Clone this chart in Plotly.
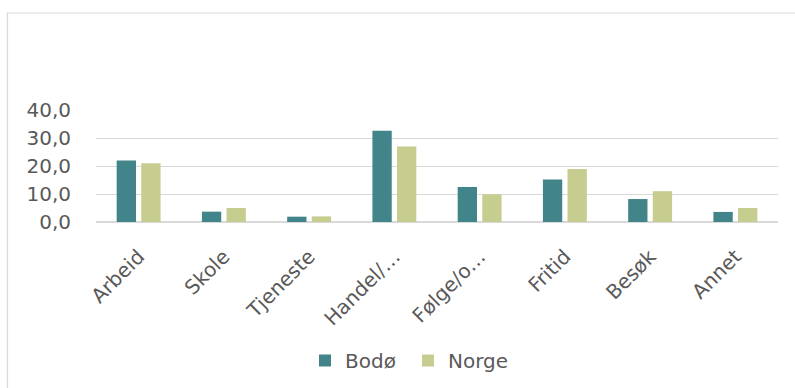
import plotly.graph_objects as go

# Reiseformål: andel av reiser (%)
categories = ["Arbeid", "Skole", "Tjeneste", "Handel/…", "Følge/o…", "Fritid", "Besøk", "Annet"]
bodo = [22.0, 3.7, 1.9, 32.6, 12.5, 15.2, 8.2, 3.6]
norge = [21.0, 5.0, 2.0, 27.0, 9.9, 18.9, 11.0, 5.0]
y_ticks = [0, 10, 20, 30, 40]

TEXT = "#595959"
GRID = "#D9D9D9"
FONT = "DejaVu Sans"

W, H = 795, 388
L, R, T, B = 96, 17, 110, 166
pw, ph = W - L - R, H - T - B

fig = go.Figure()
fig.add_trace(go.Bar(name="Bodø", x=categories, y=bodo, marker=dict(color="#41848A", line=dict(width=0))))
fig.add_trace(go.Bar(name="Norge", x=categories, y=norge, marker=dict(color="#C6CD8E", line=dict(width=0))))


def px_x(v):
    return (v - L) / pw


def px_y(v):
    return (H - B - v) / ph


fig.update_layout(
    width=W,
    height=H,
    margin=dict(l=L, r=R, t=T, b=B, pad=0, autoexpand=False),
    paper_bgcolor="white",
    plot_bgcolor="white",
    barmode="group",
    bargap=0.423,
    bargroupgap=0.215,
    separators=", ",
    font=dict(family=FONT, size=20, color=TEXT),
    showlegend=True,
    legend=dict(
        orientation="h",
        x=px_x(305),
        y=px_y(341),
        xanchor="left",
        yanchor="top",
        font=dict(family=FONT, size=20, color=TEXT),
        itemwidth=30,
        entrywidth=58,
        entrywidthmode="pixels",
        bgcolor="rgba(0,0,0,0)",
    ),
    xaxis=dict(
        type="category",
        automargin=False,
        tickangle=-45,
        showgrid=False,
        showline=False,
        ticks="outside",
        ticklen=14,
        tickcolor="rgba(0,0,0,0)",
        tickfont=dict(family=FONT, size=20, color=TEXT),
    ),
    yaxis=dict(
        range=[0, 40],
        automargin=False,
        tickvals=y_ticks,
        tickformat=".1f",
        showgrid=True,
        gridcolor=GRID,
        gridwidth=1.3,
        zeroline=True,
        zerolinecolor=GRID,
        zerolinewidth=1.6,
        showline=False,
        ticks="outside",
        ticklen=20,
        tickcolor="rgba(0,0,0,0)",
        tickfont=dict(family=FONT, size=20, color=TEXT),
    ),
    shapes=[
        dict(
            type="rect",
            xref="paper",
            yref="paper",
            x0=px_x(7.5),
            x1=px_x(810),
            y0=px_y(400),
            y1=px_y(13),
            line=dict(color=GRID, width=1.2),
            fillcolor="rgba(0,0,0,0)",
            layer="below",
        )
    ],
)

fig.write_html("out.html")
